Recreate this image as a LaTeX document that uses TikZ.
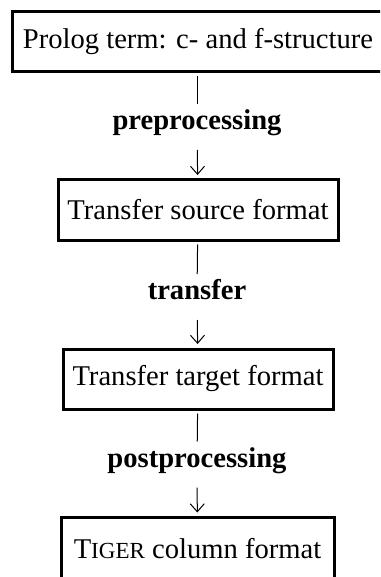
\documentclass[tikz,border=0pt]{standalone}
\usepackage{fontspec}
\setmainfont{Liberation Serif}
\usetikzlibrary{arrows.meta}
\begin{document}
\fontsize{14.3}{17}\selectfont
\begin{tikzpicture}[x=0.5pt,y=-0.5pt,
  stage/.style={draw,line width=1.5pt,minimum height=30pt,inner sep=0pt},
  phase/.style={font=\bfseries,anchor=base,inner sep=0pt,outer sep=0pt,text height=10pt,text depth=3pt},
  stem/.style={line width=0.5pt,shorten <=1.5pt,shorten >=2.75pt},
  down/.style={line width=0.5pt,-{Straight Barb[length=4pt,width=7pt]},shorten <=7.25pt,shorten >=1.75pt}]
\useasboundingbox (0,0) rectangle (380,577);
\clip (0,0) rectangle (380,577);
% top box runs out of the picture on the right
\node[stage,minimum width=186pt] (prolog) at (198,41.5) {Prolog term: c- and f-structure};
\node[stage,minimum width=140pt] (source) at (198,210) {Transfer source format};
\node[stage,minimum width=135pt] (target) at (198,379) {Transfer target format};
\node[stage,minimum width=136.5pt,minimum height=31pt] (tiger) at (197.5,548.5) {T{\fontsize{11.5}{13}\selectfont IGER} column format};
\node[phase] (pre) at (197,129.5) {preprocessing};
\node[phase] (trans) at (197,299.5) {transfer};
\node[phase] (post) at (197,467) {postprocessing};
\draw[stem] (pre |- prolog.south) -- (pre);
\draw[down] (pre) -- (source);
\draw[stem] (source) -- (trans);
\draw[down] (trans) -- (target);
\draw[stem] (target) -- (post);
\draw[down] (post) -- (tiger);
\end{tikzpicture}
\end{document}
